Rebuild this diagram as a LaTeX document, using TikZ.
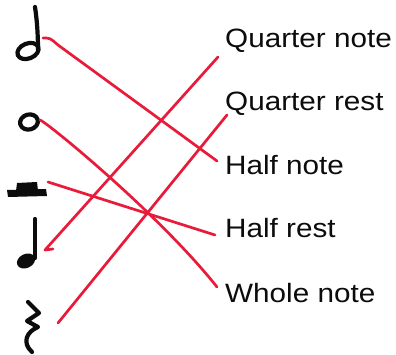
\documentclass[tikz,border=0pt]{standalone}
\usepackage{graphicx}
\usepackage{fontspec}
\setmainfont{Liberation Sans}
\definecolor{pen}{RGB}{232,28,58}
\definecolor{ink}{RGB}{12,12,12}
\begin{document}
\begin{tikzpicture}[x=1pt,y=-1pt,
  label/.style={anchor=base west,inner sep=0pt,text=ink,
    font=\fontsize{26.5pt}{30pt}\selectfont},
  link/.style={draw=pen,line width=2.7pt,line cap=round,line join=round},
  glyph/.style={draw=ink,line width=4.2pt,line cap=round,line join=round}]
\fill[white] (0,0) rectangle (396,355);
\useasboundingbox (0,0) rectangle (396,355);

% right column: names
\node[label] (qn) at (225,48)  {\scalebox{1.12}[1]{Quarter note}};
\node[label] (qr) at (225,111) {\scalebox{1.12}[1]{Quarter rest}};
\node[label] (hn) at (225,175) {\scalebox{1.12}[1]{Half note}};
\node[label] (hr) at (225,238) {\scalebox{1.12}[1]{Half rest}};
\node[label] (wn) at (225,302) {\scalebox{1.12}[1]{Whole note}};

% left column: hand-drawn symbols
% half note
\draw[glyph] (35,7) .. controls (37,20) and (38,35) .. (38,50);
\draw[glyph,rotate around={22:(28,51)}] (28,51) ellipse [x radius=11pt,y radius=7.5pt];
% whole note
\draw[glyph,rotate around={15:(29,122)}] (29,122) ellipse [x radius=9pt,y radius=7.5pt];
% half rest
\fill[ink] (7,190) -- (46,189) -- (47,196) -- (8,197) -- cycle;
\fill[ink] (17,183) -- (37,182) -- (38,191) -- (16,191) -- cycle;
% quarter note
\draw[glyph] (35,219) -- (35,258);
\fill[ink,rotate around={25:(26,261)}] (26,261) ellipse [x radius=9.5pt,y radius=7pt];
% quarter rest
\draw[glyph] (28,302) -- (39,313) -- (27,321) -- (38,327)
  .. controls (26,332) and (22,343) .. (32,352);

% connector ends
\coordinate (s1) at (43,38);
\coordinate (s2) at (40,120);
\coordinate (s3) at (48,182);
\coordinate (s4) at (45,250);
\coordinate (s4h) at (53,249);
\coordinate (s5) at (58,323);
\coordinate (e1) at (217,161);
\coordinate (e2) at (217,287);
\coordinate (e3) at (215,235);
\coordinate (e4) at (218,57);
\coordinate (e5) at (227,115);

% matching lines
\draw[link] (s1) .. controls (50,38) .. (58,45) -- (e1);
\draw[link] (s2) .. controls (48,123) and (160,215) .. (e2);
\draw[link] (s3) -- (e3);
\draw[link] (e4) -- (s4) -- (s4h);
\draw[link] (s5) -- (e5);
\end{tikzpicture}
\end{document}
